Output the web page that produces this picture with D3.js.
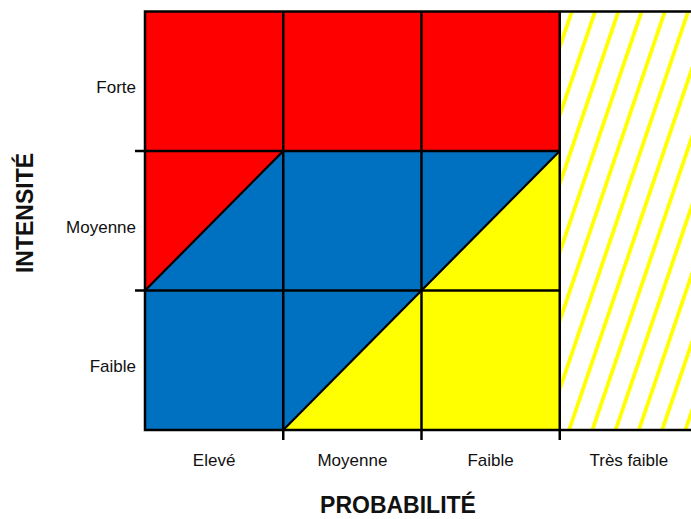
<!DOCTYPE html>
<html>
<head>
<meta charset="utf-8">
<script src="https://cdn.jsdelivr.net/npm/d3@7"></script>
<style>
  html, body { margin: 0; padding: 0; background: #fff; }
  svg { display: block; }
  text { font-family: Arial, "Liberation Sans", sans-serif; fill: #111; }
</style>
</head>
<body>
<div id="chart"></div>
<script>
// ---- Data ----
const probabilites = ["Elevé", "Moyenne", "Faible", "Très faible"];
const intensites = ["Forte", "Moyenne", "Faible"];
// Niveau de la moitié supérieure-gauche de chaque case (lignes = intensités, colonnes = 3 premières probabilités)
const niveauHaut = [
  ["fort", "fort", "fort"],
  ["fort", "moyen", "moyen"],
  ["moyen", "moyen", "faible"]
];
// Niveau de la moitié inférieure-droite de chaque case
const niveauBas = [
  ["fort", "fort", "fort"],
  ["moyen", "moyen", "faible"],
  ["moyen", "faible", "faible"]
];
const niveaux = ["fort", "moyen", "faible"];
const couleursNiveaux = ["#FF0000", "#0070C0", "#FFFF00"];
const titreX = "PROBABILITÉ";
const titreY = "INTENSITÉ";

(function () {
// ---- Layout ----
const W = 691, H = 519;
const pLeft = 145, pRight = 698, pTop = 11.5, pBottom = 430;

const svg = d3.select("#chart").append("svg").attr("width", W).attr("height", H);
svg.append("rect").attr("width", W).attr("height", H).attr("fill", "#fff");

const x = d3.scaleBand().domain(probabilites).range([pLeft, pRight]).padding(0);
const y = d3.scaleBand().domain(intensites).range([pTop, pBottom]).padding(0);
const color = d3.scaleOrdinal().domain(niveaux).range(couleursNiveaux);

// hatch pattern for "Très faible"
const slope = 0.34;
const defs = svg.append("defs");
const pat = defs.append("pattern")
  .attr("id", "hatch")
  .attr("patternUnits", "userSpaceOnUse")
  .attr("width", 23.26).attr("height", 40)
  .attr("patternTransform", `skewX(${-Math.atan(slope) * 180 / Math.PI})`);
pat.append("rect").attr("width", 23.26).attr("height", 40).attr("fill", "#fff");
pat.append("rect").attr("x", 15.5).attr("y", -1).attr("width", 4).attr("height", 42).attr("fill", "#FFFF00");

// build cells
const cells = [];
intensites.forEach((r, i) => {
  probabilites.slice(0, 3).forEach((c, j) => {
    cells.push({ r, c, haut: niveauHaut[i][j], bas: niveauBas[i][j] });
  });
});

const g = svg.append("g");
// whole cell in lower-right colour
g.selectAll("rect.cell").data(cells).join("rect")
  .attr("class", "cell")
  .attr("x", d => x(d.c)).attr("y", d => y(d.r))
  .attr("width", x.bandwidth()).attr("height", y.bandwidth())
  .attr("fill", d => color(d.bas));
// upper-left triangle where it differs
const split = cells.filter(d => d.haut !== d.bas);
g.selectAll("path.haut").data(split).join("path")
  .attr("class", "haut")
  .attr("d", d => {
    const x0 = x(d.c), x1 = x0 + x.bandwidth(), y0 = y(d.r), y1 = y0 + y.bandwidth();
    return `M${x0},${y0}L${x1},${y0}L${x0},${y1}Z`;
  })
  .attr("fill", d => color(d.haut));

// "Très faible" column
const last = probabilites[3];
g.append("rect")
  .attr("x", x(last)).attr("y", pTop)
  .attr("width", x.bandwidth()).attr("height", pBottom - pTop)
  .attr("fill", "url(#hatch)");

// diagonals where halves differ
g.selectAll("line.diag").data(split).join("line")
  .attr("class", "diag")
  .attr("x1", d => x(d.c)).attr("y1", d => y(d.r) + y.bandwidth())
  .attr("x2", d => x(d.c) + x.bandwidth()).attr("y2", d => y(d.r))
  .attr("stroke", "#000").attr("stroke-width", 2.2);

// grid lines
const lw = 2.5;
g.selectAll("line.h").data(intensites.slice(1)).join("line")
  .attr("class", "h")
  .attr("x1", pLeft - 10).attr("x2", x(last))
  .attr("y1", d => y(d)).attr("y2", d => y(d))
  .attr("stroke", "#000").attr("stroke-width", lw);
g.selectAll("line.v").data(probabilites.slice(1)).join("line")
  .attr("class", "v")
  .attr("x1", d => x(d)).attr("x2", d => x(d))
  .attr("y1", pTop).attr("y2", pBottom + 10)
  .attr("stroke", "#000").attr("stroke-width", lw);
g.append("path")
  .attr("d", `M${pRight + 5},${pTop}L${pLeft},${pTop}L${pLeft},${pBottom}L${pRight + 5},${pBottom}`)
  .attr("fill", "none").attr("stroke", "#000").attr("stroke-width", lw);

// axis labels
svg.selectAll("text.ylab").data(intensites).join("text")
  .attr("class", "ylab")
  .attr("x", 136).attr("y", d => y(d) + y.bandwidth() / 2 + 12)
  .attr("text-anchor", "end").attr("font-size", 17)
  .text(d => d);
svg.selectAll("text.xlab").data(probabilites).join("text")
  .attr("class", "xlab")
  .attr("x", d => x(d) + x.bandwidth() / 2).attr("y", 466)
  .attr("text-anchor", "middle").attr("font-size", 17)
  .text(d => d);

// titles
svg.append("text")
  .attr("x", 398).attr("y", 513)
  .attr("text-anchor", "middle").attr("font-size", 23).attr("font-weight", "bold")
  .text(titreX);
svg.append("text")
  .attr("transform", "translate(33,213) rotate(-90)")
  .attr("text-anchor", "middle").attr("font-size", 23).attr("font-weight", "bold")
  .text(titreY);
})();
</script>
</body>
</html>
